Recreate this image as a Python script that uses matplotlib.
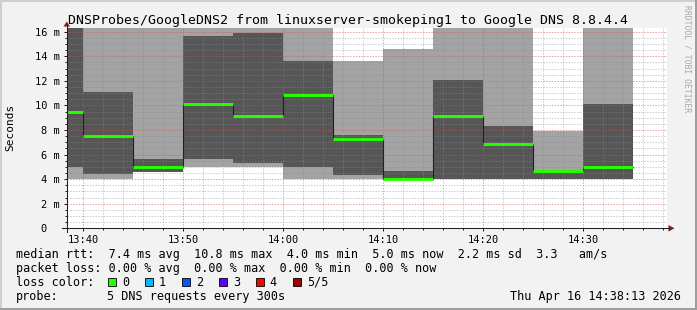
import numpy as np
import matplotlib.pyplot as plt
from matplotlib.patches import Rectangle, Polygon
from matplotlib.lines import Line2D
from matplotlib.ticker import MultipleLocator

# 5 minute steps, sorted DNS ping results (ms): lowest, 2nd, median, 4th, highest
starts = ["13:35", "13:40", "13:45", "13:50", "13:55", "14:00",
          "14:05", "14:10", "14:15", "14:20", "14:25", "14:30"]
ping1 = [4.0, 4.0, 4.55, 5.0, 5.0, 4.0, 4.0, 4.0, 4.0, 4.0, 4.0, 4.0]
ping2 = [5.0, 4.4, 4.6, 5.65, 5.35, 5.0, 4.35, 4.0, 4.0, 4.0, 4.0, 4.0]
median = [9.5, 7.5, 5.0, 10.1, 9.15, 10.85, 7.25, 4.05, 9.15, 6.85, 4.65, 5.0]
ping4 = [18.0, 11.1, 5.65, 15.65, 15.9, 13.6, 7.6, 4.65, 12.05, 8.35, 4.7, 10.1]
ping5 = [18.0, 18.0, 18.0, 18.0, 18.0, 18.0, 13.6, 14.6, 18.0, 18.0, 7.95, 18.0]

yticks = [0, 2, 4, 6, 8, 10, 12, 14, 16]
ylabels = ["0  ", "2 m", "4 m", "6 m", "8 m", "10 m", "12 m", "14 m", "16 m"]
xlabels = ["13:40", "13:50", "14:00", "14:10", "14:20", "14:30"]
loss_labels = ["0", "1", "2", "3", "4", "5/5"]
loss_colors = ["#26ff00", "#00b8ff", "#0059ff", "#5e00ff", "#ff0000", "#a00000"]

title = "DNSProbes/GoogleDNS2 from linuxserver-smokeping1 to Google DNS 8.8.4.4"
rtt_line = "median rtt:  7.4 ms avg  10.8 ms max  4.0 ms min  5.0 ms now  2.2 ms sd  3.3   am/s"
loss_line = "packet loss: 0.00 % avg  0.00 % max  0.00 % min  0.00 % now"
probe_text = "5 DNS requests every 300s"
stamp = "Thu Apr 16 14:38:13 2026"

W, H = 697, 310
plt.rcParams['font.family'] = 'DejaVu Sans Mono'


def mins(s):
    h, m = s.split(":")
    return int(h) * 60 + int(m) - 13 * 60


def P(x, y):
    return (x / W, 1 - y / H)


t0 = np.array([mins(s) for s in starts], float)
t1 = t0 + 5
p1, p2, p4, p5 = map(np.array, (ping1, ping2, ping4, ping5))
med = np.array(median)

fig = plt.figure(figsize=(W / 100, H / 100), dpi=100, facecolor='#f2f2f2')
left, right, bottom, top = 66.7, 666.7, 228.3, 27.7
ax = fig.add_axes([left / W, 1 - bottom / H, (right - left) / W, (bottom - top) / H])
ax.set_facecolor('white')

# smoke
ax.bar(t0, p5 - p1, bottom=p1, width=5, align='edge', color='#a3a3a3', lw=0, zorder=1)
ax.bar(t0, p4 - p2, bottom=p2, width=5, align='edge', color='#565656', lw=0, zorder=1.1)
# median
ax.step(np.append(t0, t1[-1]), np.append(med, med[-1]), where='post',
        color='#202020', lw=0.8, zorder=3)
ax.hlines(med, t0, t1, color=loss_colors[0], lw=2.1, zorder=3.5)

ax.set_xlim(38 + 1 / 3, 98 + 1 / 3)
ax.set_ylim(0, 16.32)

ax.set_yticks(yticks)
ax.set_yticklabels(ylabels)
ax.set_xticks([mins(s) for s in xlabels])
ax.set_xticklabels(xlabels)
ax.xaxis.set_minor_locator(MultipleLocator(2))
ax.yaxis.set_minor_locator(MultipleLocator(0.5))

ax.set_axisbelow(False)
ax.grid(which='minor', color='#8c8c8c', alpha=0.45, lw=0.72, ls=(0, (1.4, 1.4)))
ax.grid(which='major', color=(0.87, 0.31, 0.31), alpha=0.55, lw=0.72, ls=(0, (1.4, 1.4)))

ax.tick_params(which='major', direction='out', length=2.5, width=0.72,
               color='#1f1f1f', labelsize=7.5, pad=2.5)
ax.tick_params(which='minor', direction='out', length=1.5, width=0.72, color='#1f1f1f')
for s in ax.spines.values():
    s.set_visible(False)

# axes lines and arrows
fig.add_artist(Line2D([P(62, 0)[0], P(669, 0)[0]], [P(0, bottom)[1]] * 2,
                      color='#1f1f1f', lw=0.75))
fig.add_artist(Line2D([P(left, 0)[0]] * 2, [P(0, 232)[1], P(0, 26)[1]],
                      color='#1f1f1f', lw=0.75))
fig.add_artist(Polygon([P(63.5, 26.5), P(70, 26.5), P(left, 21.5)],
                       transform=fig.transFigure, color='#801f1f', lw=0))
fig.add_artist(Polygon([P(668.5, 225), P(668.5, 231.6), P(674.5, bottom)],
                       transform=fig.transFigure, color='#801f1f', lw=0))

# texts
fig.text(*P(347.5, 24), title, ha='center', va='baseline', fontsize=9.5)
fig.text(*P(10.5, 127), "Seconds", ha='center', va='center', rotation=90, fontsize=8)
fig.text(*P(687.5, 59), "RRDTOOL / TOBI OETIKER", ha='center', va='center',
         rotation=270, fontsize=5.8, color='#a8a8a8')

fs = 8.5
fig.text(*P(15.5, 257.7), rtt_line, ha='left', va='baseline', fontsize=fs)
fig.text(*P(15.5, 271.7), loss_line, ha='left', va='baseline', fontsize=fs)
fig.text(*P(15.5, 285.7), "loss color:", ha='left', va='baseline', fontsize=fs)
fig.text(*P(15.5, 299.7), "probe:", ha='left', va='baseline', fontsize=fs)
fig.text(*P(107, 299.7), probe_text, ha='left', va='baseline', fontsize=fs)
fig.text(*P(681, 299.7), stamp, ha='right', va='baseline', fontsize=fs)

for i, (lab, col) in enumerate(zip(loss_labels, loss_colors)):
    bx = 108.3 + i * 37
    fig.add_artist(Rectangle(P(bx, 286), 8 / W, 8 / H, transform=fig.transFigure,
                             facecolor=col, edgecolor='black', lw=0.6))
    fig.text(*P(bx + 13.5, 285.7), lab, ha='left', va='baseline', fontsize=fs)

# frame shading
fig.add_artist(Rectangle((0, 1 - 2 / H), 1, 2 / H, transform=fig.transFigure, color='#cfcfcf', lw=0))
fig.add_artist(Rectangle((0, 0), 2 / W, 1, transform=fig.transFigure, color='#cfcfcf', lw=0))
fig.add_artist(Rectangle((0, 0), 1, 2 / H, transform=fig.transFigure, color='#9e9e9e', lw=0))
fig.add_artist(Rectangle((1 - 2 / W, 0), 2 / W, 1, transform=fig.transFigure, color='#9e9e9e', lw=0))

fig.savefig('out.png', dpi=100, facecolor=fig.get_facecolor())
